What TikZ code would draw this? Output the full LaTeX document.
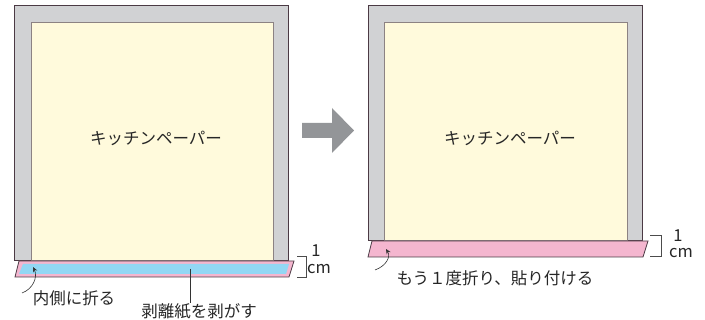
\documentclass[tikz,border=0pt]{standalone}
\usepackage{fontspec}
\setmainfont{Noto Sans CJK JP}
\usepackage{tikz}
\usetikzlibrary{
        arrows.meta,
        positioning
    }
\definecolor{framegray}{HTML}{D1D2D4}
\definecolor{edgedark}{HTML}{4B3A44}
\definecolor{paperyellow}{HTML}{FFFADC}
\definecolor{paperedge}{HTML}{8C8283}
\definecolor{tapepink}{HTML}{F4B6CF}
\definecolor{linerblue}{HTML}{92D7F4}
\definecolor{arrowgray}{HTML}{939598}
\tikzset{>={Stealth[length=5pt,width=4.5pt]},x=1pt,y=-1pt}
\tikzset{
    frame/.style={fill=framegray,draw=edgedark,line width=1pt},
    paper/.style={fill=paperyellow,draw=paperedge,line width=1pt},
    tape/.style={fill=tapepink,draw=edgedark,line width=0.8pt},
    liner/.style={fill=linerblue},
    lbl/.style={font=\fontsize{16.5}{19}\selectfont,inner sep=0pt,text=black!85},
    pointer/.style={->,line width=0.6pt,black!80},
    bracket/.style={line width=0.6pt,black!70}
}

\begin{document}
\begin{tikzpicture}
    \useasboundingbox (0,0) rectangle (705,320);
    % before folding
    \draw[frame] (14,6) rectangle (288,261);
    \draw[paper] (31,23) rectangle (273,261);
    \draw[tape] (19,261) -- (294,261) -- (289,277) -- (15,277) -- cycle;
    \fill[liner] (23,264) -- (289,264) -- (286,274) -- (19,274) -- cycle;
    \node[lbl] (paperL) at (156,138) {キッチンペーパー};
    \draw[bracket] (297,256) -- (306,256) -- (306,277) -- (297,277);
    \node[lbl] (oneL) at (316,251) {1};
    \node[lbl] (cmL) at (319,269) {cm};
    % after folding
    \draw[frame] (368,6) rectangle (642,241);
    \draw[paper] (384,23) rectangle (627,241);
    \draw[tape] (372,241) -- (648,241) -- (643,257) -- (368,257) -- cycle;
    \node[lbl] (paperR) at (510,138) {キッチンペーパー};
    \draw[bracket] (650,235) -- (661,235) -- (661,256) -- (650,256);
    \node[lbl] (oneR) at (678,236) {1};
    \node[lbl] (cmR) at (681,253) {cm};
    % step arrow
    \fill[arrowgray] (302,123) -- (332,123) -- (332,108) -- (354,130.5)
        -- (332,153) -- (332,138) -- (302,138) -- cycle;
    % labels
    \node[lbl] (foldin) at (74,298) {内側に折る};
    \node[lbl] (peel) at (199,311) {剥離紙を剥がす};
    \node[lbl] (foldagain) at (495,278) {もう１度折り、貼り付ける};
    \coordinate (tailL) at (22,293);
    \coordinate (tipL) at (33,267);
    \coordinate (peelpt) at (190,269);
    \coordinate (tailR) at (375,270);
    \coordinate (tipR) at (386,249);
    \draw[pointer] (tailL) .. controls (33,289) and (38,277) .. (tipL);
    \draw[line width=0.6pt,black!80] (peelpt) -- (peelpt |- peel.north);
    \draw[pointer] (tailR) .. controls (386,266) and (391,257) .. (tipR);
\end{tikzpicture}
\end{document}
